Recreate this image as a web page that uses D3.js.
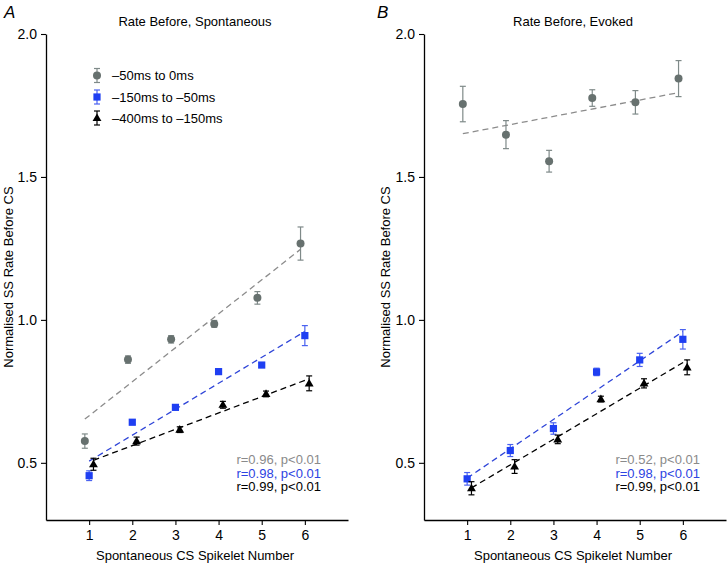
<!DOCTYPE html>
<html>
<head>
<meta charset="utf-8">
<script src="https://cdn.jsdelivr.net/npm/d3@7"></script>
<style>
  html, body { margin: 0; padding: 0; background: #fff; }
  svg { display: block; font-family: "Liberation Sans", Arial, Helvetica, sans-serif; }
</style>
</head>
<body>
<svg id="chart" width="728" height="563"></svg>
<script>
// ---------- data ----------
const spikelets = [1, 2, 3, 4, 5, 6];
const yTicks = [0.5, 1.0, 1.5, 2.0];
const seriesNames = ["\u201350ms to 0ms", "\u2013150ms to \u201350ms", "\u2013400ms to \u2013150ms"];

// Panel A: Rate Before, Spontaneous
const spontGray      = [0.576, 0.861, 0.932, 0.986, 1.077, 1.267];
const spontGrayErr   = [0.025, 0.013, 0.013, 0.012, 0.022, 0.058];
const spontBlue      = [0.455, 0.642, 0.694, 0.819, 0.842, 0.945];
const spontBlueErr   = [0.017, 0.008, 0.008, 0.008, 0.008, 0.035];
const spontBlack     = [0.495, 0.576, 0.616, 0.703, 0.741, 0.778];
const spontBlackErr  = [0.021, 0.014, 0.010, 0.012, 0.010, 0.026];
const spontStats     = ["r=0.96, p<0.01", "r=0.98, p<0.01", "r=0.99, p<0.01"];

// Panel B: Rate Before, Evoked
const evokGray       = [1.755, 1.648, 1.555, 1.776, 1.761, 1.844];
const evokGrayErr    = [0.062, 0.049, 0.038, 0.029, 0.041, 0.063];
const evokBlue       = [0.444, 0.543, 0.620, 0.818, 0.860, 0.932];
const evokBlueErr    = [0.022, 0.021, 0.020, 0.013, 0.023, 0.034];
const evokBlack      = [0.411, 0.487, 0.582, 0.723, 0.778, 0.834];
const evokBlackErr   = [0.023, 0.024, 0.015, 0.010, 0.016, 0.026];
const evokStats      = ["r=0.52, p<0.01", "r=0.98, p<0.01", "r=0.99, p<0.01"];

// ---------- styles ----------
const styles = [
  { shape: "circle",   fill: "#67716f", err: "#7f8a89", line: "#8c8c8c", text: "#8a8a8a", dx: -0.1 },
  { shape: "square",   fill: "#1f3ff2", err: "#4a62f0", line: "#2f45d8", text: "#2d43e2", dx: 0 },
  { shape: "triangle", fill: "#000000", err: "#000000", line: "#000000", text: "#000000", dx: 0.1 }
];
const font = '"Liberation Sans", Arial, Helvetica, sans-serif';
const svg = d3.select("#chart");

function linfit(xs, ys) {
  const mx = d3.mean(xs), my = d3.mean(ys);
  let sxy = 0, sxx = 0;
  xs.forEach((x, i) => { sxy += (x - mx) * (ys[i] - my); sxx += (x - mx) * (x - mx); });
  const b = sxy / sxx;
  return x => my + b * (x - mx);
}

function drawMarker(g, shape, cx, cy, fill) {
  if (shape === "circle") {
    g.append("circle").attr("cx", cx).attr("cy", cy).attr("r", 4).attr("fill", fill);
  } else if (shape === "square") {
    g.append("rect").attr("x", cx - 3.6).attr("y", cy - 3.6).attr("width", 7.2).attr("height", 7.2).attr("fill", fill);
  } else {
    g.append("path").attr("d", d3.symbol().type(d3.symbolTriangle).size(34)())
      .attr("transform", `translate(${cx},${cy + 0.5})`).attr("fill", fill);
  }
}

function drawErr(g, cx, y0, y1, color) {
  g.append("line").attr("x1", cx).attr("x2", cx).attr("y1", y0).attr("y2", y1)
    .attr("stroke", color).attr("stroke-width", 1.2);
  [y0, y1].forEach(yy => g.append("line").attr("x1", cx - 3).attr("x2", cx + 3)
    .attr("y1", yy).attr("y2", yy).attr("stroke", color).attr("stroke-width", 1.2));
}

function drawPanel(opts) {
  const { x0, x1, letter, letterX, title, series, stats, statsX, legend, yLabelX } = opts;
  const x = d3.scaleLinear().domain([0, 7]).range([x0, x1]);
  const y = d3.scaleLinear().domain([0.3, 2.0]).range([520, 34]);
  const g = svg.append("g");

  // axes
  const yAxis = g.append("g").attr("transform", `translate(${x0},0)`)
    .call(d3.axisLeft(y).tickValues(yTicks).tickFormat(d3.format(".1f")).tickSize(5).tickSizeOuter(0));
  const xAxis = g.append("g").attr("transform", `translate(0,520)`)
    .call(d3.axisBottom(x).tickValues(spikelets).tickFormat(d3.format("d")).tickSize(5).tickSizeOuter(0));
  [yAxis, xAxis].forEach(a => {
    a.select(".domain").attr("stroke", "#000").attr("stroke-width", 1.3);
    a.selectAll(".tick line").attr("stroke", "#000").attr("stroke-width", 1.1);
    a.selectAll(".tick text").attr("font-family", font).attr("font-size", 14).attr("fill", "#000");
  });
  yAxis.selectAll(".tick text").attr("x", -9);
  xAxis.selectAll(".tick text").attr("y", 10);

  // titles
  g.append("text").attr("x", (x0 + x1) / 2 - 2).attr("y", 26).attr("text-anchor", "middle")
    .attr("font-size", 13).text(title);
  g.append("text").attr("x", letterX).attr("y", 18).attr("font-size", 17).attr("font-style", "italic")
    .text(letter);
  g.append("text").attr("x", (x0 + x1) / 2 - 2).attr("y", 560).attr("text-anchor", "middle")
    .attr("font-size", 13).text("Spontaneous CS Spikelet Number");
  g.append("text").attr("transform", `translate(${yLabelX},277) rotate(-90)`).attr("text-anchor", "middle")
    .attr("font-size", 13).text("Normalised SS Rate Before CS");

  // fit lines
  series.forEach((s, i) => {
    const st = styles[i];
    const xs = spikelets.map(v => v + st.dx);
    const f = linfit(xs, s.vals);
    const xa = d3.min(xs), xb = d3.max(xs);
    g.append("line").attr("x1", x(xa)).attr("x2", x(xb)).attr("y1", y(f(xa))).attr("y2", y(f(xb)))
      .attr("stroke", st.line).attr("stroke-width", 1.3).attr("stroke-dasharray", "6,4");
  });

  // error bars & markers
  series.forEach((s, i) => {
    const st = styles[i];
    spikelets.forEach((k, j) => {
      const cx = x(k + st.dx);
      drawErr(g, cx, y(s.vals[j] + s.errs[j]), y(s.vals[j] - s.errs[j]), st.err);
      drawMarker(g, st.shape, cx, y(s.vals[j]), st.fill);
    });
  });

  // stats
  stats.forEach((t, i) => {
    g.append("text").attr("x", statsX).attr("y", 464 + i * 13.5).attr("text-anchor", "end")
      .attr("font-size", 13).attr("fill", styles[i].text).text(t);
  });

  // legend
  if (legend) {
    const ly = [75.5, 97, 118];
    seriesNames.forEach((name, i) => {
      const st = styles[i];
      drawErr(g, 97, ly[i] - 7, ly[i] + 7, st.err);
      drawMarker(g, st.shape, 97, ly[i], st.fill);
      g.append("text").attr("x", 112).attr("y", ly[i] + 4.5).attr("font-size", 13).text(name);
    });
  }
}

drawPanel({
  x0: 46, x1: 348, letter: "A", letterX: 4, title: "Rate Before, Spontaneous",
  series: [
    { vals: spontGray, errs: spontGrayErr },
    { vals: spontBlue, errs: spontBlueErr },
    { vals: spontBlack, errs: spontBlackErr }
  ],
  stats: spontStats, statsX: 321, legend: true, yLabelX: 13
});

drawPanel({
  x0: 424, x1: 726, letter: "B", letterX: 377, title: "Rate Before, Evoked",
  series: [
    { vals: evokGray, errs: evokGrayErr },
    { vals: evokBlue, errs: evokBlueErr },
    { vals: evokBlack, errs: evokBlackErr }
  ],
  stats: evokStats, statsX: 700, legend: false, yLabelX: 390
});
</script>
</body>
</html>
